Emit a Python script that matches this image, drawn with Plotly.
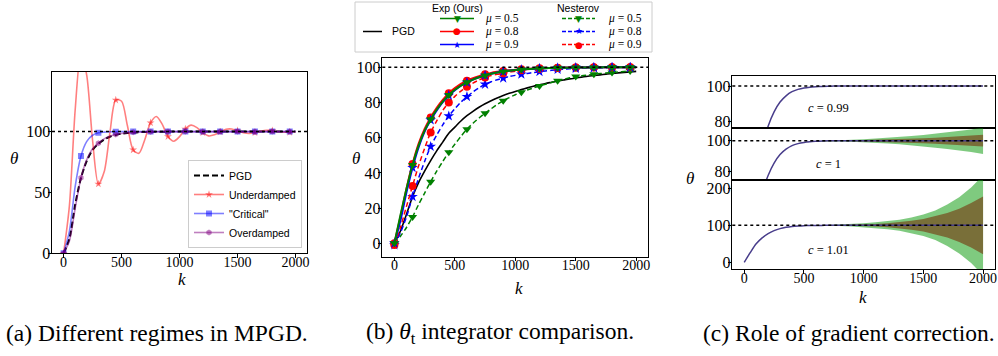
import plotly.graph_objects as go

# ---------------- data ----------------
K = list(range(0, 2001, 50))          # iteration index k
MARK_EVERY = 3                        # markers every 150 iterations
TARGET = 100                          # optimum theta*

# (a) Different regimes in MPGD
A_PGD = [0, 12, 40, 62, 76, 85, 90, 93.5, 95.8, 97.3, 98.3, 98.9, 99.3, 99.6, 99.75, 99.85, 99.9, 99.95,
         100, 100, 100, 100, 100, 100, 100, 100, 100, 100, 100, 100, 100, 100, 100, 100, 100, 100, 100,
         100, 100, 100, 100]
A_UNDER = [0, 39, 118, 166, 146, 92.7, 57, 67, 99.6, 126, 125, 105, 85, 82.2, 93.3, 107.3, 112.4, 106.1,
           96, 92.1, 95.9, 102.2, 105.3, 103.3, 99.1, 96.5, 97.35, 99.8, 101.9, 102.1, 100.7, 99.1, 98.5,
           99.2, 100.3, 101, 100.8, 100.05, 99.5, 99.5, 99.9]
A_CRIT = [0, 18, 55, 80, 92, 97, 99, 99.6, 99.85, 99.95, 100, 100, 100, 100, 100, 100, 100, 100, 100, 100,
          100, 100, 100, 100, 100, 100, 100, 100, 100, 100, 100, 100, 100, 100, 100, 100, 100, 100, 100,
          100, 100]
A_OVER = [0, 10, 37, 62, 77, 86, 90.5, 94, 96.2, 97.6, 98.5, 99, 99.4, 99.65, 99.8, 99.9, 99.95, 100, 100,
          100, 100, 100, 100, 100, 100, 100, 100, 100, 100, 100, 100, 100, 100, 100, 100, 100, 100, 100,
          100, 100, 100]
A_LABELS = ["PGD", "Underdamped", "\"Critical\"", "Overdamped"]

# (b) theta_t integrator comparison
B_PGD = [0, 7, 16.5, 26.5, 34.5, 41, 47, 52.5, 57.5, 62.5, 66, 69.5, 72.5, 75, 77.3, 79.3, 81, 82.6, 84,
         85.2, 86.3, 87.3, 88.3, 89.2, 90, 90.8, 91.5, 92.2, 92.8, 93.4, 93.9, 94.4, 94.9, 95.3, 95.7,
         96.1, 96.5, 96.8, 97.1, 97.4, 97.7]
EXP_05 = [0, 16, 31, 44.5, 55.5, 64, 70.5, 76, 80.5, 84.3, 87.2, 89.6, 91.5, 93, 94.3, 95.4, 96.3, 97,
          97.6, 98, 98.4, 98.7, 99, 99.2, 99.35, 99.5, 99.6, 99.7, 99.75, 99.8, 99.85, 99.88, 99.9, 99.92,
          99.94, 99.95, 99.96, 99.97, 99.98, 99.99, 100]
EXP_08 = [0, 15, 31, 45, 56.5, 65, 71.5, 77, 81.5, 85.3, 88.2, 90.6, 92.4, 93.8, 95, 96, 96.8, 97.4, 97.9,
          98.3, 98.6, 98.9, 99.1, 99.3, 99.45, 99.55, 99.65, 99.72, 99.78, 99.83, 99.87, 99.9, 99.92,
          99.94, 99.95, 99.96, 99.97, 99.98, 99.99, 100, 100]
EXP_09 = [0, 13, 29, 43, 54.5, 63.5, 70, 75.5, 80.2, 84, 87, 89.5, 91.4, 93, 94.3, 95.4, 96.3, 97, 97.6,
          98, 98.4, 98.7, 99, 99.2, 99.35, 99.5, 99.6, 99.7, 99.75, 99.8, 99.85, 99.88, 99.9, 99.92, 99.94,
          99.95, 99.96, 99.97, 99.98, 99.99, 100]
NES_05 = [0, 4, 9, 15, 22, 28.5, 35, 41, 46.5, 51.7, 56.3, 60.7, 64.8, 68.2, 71.2, 73.9, 76.4, 78.8, 81,
          82.8, 84.4, 85.8, 87.1, 88.3, 89.4, 90.4, 91.4, 92.4, 93.2, 94, 94.7, 95.2, 95.6, 96, 96.4,
          96.7, 97, 97.3, 97.6, 97.9, 98.1]
NES_08 = [-1, 6, 15, 26.5, 37, 46.5, 55, 61.5, 67.3, 72.3, 76.5, 80.2, 83.3, 86, 88.3, 90.3, 91.8, 92.9,
          93.8, 94.7, 95.4, 96, 96.5, 97, 97.5, 97.9, 98.3, 98.7, 98.95, 99.15, 99.3, 99.45, 99.55, 99.65,
          99.72, 99.78, 99.83, 99.87, 99.9, 99.93, 99.95]
NES_09 = [-1, 9, 21, 32.6, 44, 54, 63, 69.5, 75.5, 80, 83.5, 86.5, 89, 91, 92.8, 94.2, 95.3, 96, 96.6,
          97.2, 97.8, 98.3, 98.7, 99, 99.2, 99.4, 99.55, 99.65, 99.75, 99.82, 99.87, 99.9, 99.93, 99.95,
          99.96, 99.97, 99.98, 99.99, 100, 100, 100]
MU_LABELS = ["0.5", "0.8", "0.9"]
GROUP_TITLES = ["Exp (Ours)", "Nesterov"]

# (c) Role of gradient correction
C_CURVE = [0, 26, 50, 66, 77.5, 85.5, 91, 94.5, 96.8, 98.1, 98.9, 99.35, 99.6, 99.78, 99.88, 99.94, 99.97,
           99.99, 100, 100, 100, 100, 100, 100, 100, 100, 100, 100, 100, 100, 100, 100, 100, 100, 100,
           100, 100, 100, 100, 100, 100]
K_BAND = K[::2]                       # k = 0, 100, ..., 2000
C1_GREEN_HW = [0, 0, 0, 0, 0, 0, 0.1, 0.25, 0.45, 0.7, 1.0, 1.35, 1.8, 2.35, 3.0, 3.7, 4.5, 5.3, 6.2, 7.3, 8.6]
C1_BROWN_HW = [0, 0, 0, 0, 0, 0, 0.05, 0.1, 0.2, 0.3, 0.45, 0.6, 0.8, 1.05, 1.3, 1.6, 1.95, 2.3, 2.75, 3.25, 3.8]
C101_GREEN_HW = [0, 0, 0, 0, 0, 0, 0.3, 0.8, 2, 3.5, 5.5, 8, 11, 15, 21, 29, 40, 56, 76, 102, 135]
C101_BROWN_HW = [0, 0, 0, 0, 0, 0, 0.1, 0.3, 0.7, 1.3, 2.2, 3.5, 5.5, 8, 12, 17, 24, 33, 45, 60, 78]
C_LABELS = ["0.99", "1", "1.01"]

CAPTIONS = ["(a) Different regimes in MPGD.",
            "(b) <i>θ</i><sub>t</sub> integrator comparison.",
            "(c) Role of gradient correction."]

# ---------------- styling ----------------
W, H = 998, 356
SERIF = "Liberation Serif, Times New Roman, Times, serif"
SANS = "Liberation Sans, Arial, sans-serif"
GREEN, RED, BLUE = "rgb(0,128,0)", "rgb(255,0,0)", "rgb(0,0,255)"


def fx(p):
    return p / W


def fy(p):
    return 1 - p / H


fig = go.Figure()


def line_trace(xa, ya, y, color, width, dash="solid", symbol=None, msize=7, name=None, legend=False):
    fig.add_trace(go.Scatter(x=K, y=y, mode="lines", xaxis=xa, yaxis=ya, showlegend=False,
                             hoverinfo="skip",
                             line=dict(color=color, width=width, dash=dash, shape="spline", smoothing=0.8)))
    if symbol:
        fig.add_trace(go.Scatter(x=K[::MARK_EVERY], y=y[::MARK_EVERY], mode="markers", xaxis=xa, yaxis=ya,
                                 showlegend=False, hoverinfo="skip",
                                 marker=dict(symbol=symbol, size=msize, color=color, line=dict(width=0))))
    if legend:
        fig.add_trace(go.Scatter(x=[None], y=[None], name=name, xaxis=xa, yaxis=ya,
                                 mode="lines+markers" if symbol else "lines",
                                 line=dict(color=color, width=width, dash=dash),
                                 marker=dict(symbol=symbol or "circle", size=msize, color=color,
                                             line=dict(width=0)),
                                 showlegend=True, legend="legend"))


# (a)
line_trace("x", "y", A_PGD, "black", 2, "6px,3px", name=A_LABELS[0], legend=True)
line_trace("x", "y", A_UNDER, "rgba(255,0,0,0.5)", 1.6, symbol="star", msize=6, name=A_LABELS[1], legend=True)
line_trace("x", "y", A_CRIT, "rgba(0,0,255,0.5)", 1.6, symbol="square", msize=6, name=A_LABELS[2], legend=True)
line_trace("x", "y", A_OVER, "rgba(128,0,128,0.5)", 1.6, symbol="hexagon", msize=6, name=A_LABELS[3], legend=True)

# (b)
B_SERIES = [
    dict(group=0, mu=0, y=EXP_05, color=GREEN, dash="solid", symbol="triangle-down", glyph="▼"),
    dict(group=0, mu=1, y=EXP_08, color=RED, dash="solid", symbol="circle", glyph="●"),
    dict(group=0, mu=2, y=EXP_09, color=BLUE, dash="solid", symbol="star", glyph="★"),
    dict(group=1, mu=0, y=NES_05, color=GREEN, dash="5px,3px", symbol="triangle-down", glyph="▼"),
    dict(group=1, mu=1, y=NES_08, color=BLUE, dash="5px,3px", symbol="star", glyph="★"),
    dict(group=1, mu=2, y=NES_09, color=RED, dash="5px,3px", symbol="circle", glyph="●"),
]
line_trace("x2", "y2", B_PGD, "black", 1.6)
for idx in [3, 4, 5, 1, 2, 0]:
    s = B_SERIES[idx]
    line_trace("x2", "y2", s["y"], s["color"], 2 if s["group"] == 0 else 1.5, s["dash"],
               symbol=s["symbol"], msize=8)

# (c) bands + curves
GREEN_FILL = "rgba(0,150,0,0.5)"
BROWN_FILL = "rgb(121,111,57)"
center = C_CURVE[::2]
for xa, ya, g_hw, b_hw in [("x4", "y4", C1_GREEN_HW, C1_BROWN_HW), ("x5", "y5", C101_GREEN_HW, C101_BROWN_HW)]:
    for hw, col in [(g_hw, GREEN_FILL), (b_hw, BROWN_FILL)]:
        upper = [c + h for c, h in zip(center, hw)]
        lower = [c - h for c, h in zip(center, hw)]
        fig.add_trace(go.Scatter(x=K_BAND + K_BAND[::-1], y=upper + lower[::-1], fill="toself",
                                 fillcolor=col, mode="lines", line=dict(width=0), xaxis=xa, yaxis=ya,
                                 showlegend=False, hoverinfo="skip"))
for xa, ya in [("x3", "y3"), ("x4", "y4"), ("x5", "y5")]:
    line_trace(xa, ya, C_CURVE, "rgb(72,61,139)", 1.5)


# ---------------- axes ----------------
def axis(domain, rng, tickvals, anchor, labels=True, size=16, ticks="outside", standoff=-6):
    return dict(domain=domain, range=rng, tickvals=tickvals, ticks=ticks, ticklen=3.5, tickwidth=0.8,
                tickcolor="black", showline=True, linecolor="black", linewidth=1, mirror=True,
                showgrid=False, zeroline=False, showticklabels=labels, anchor=anchor, automargin=False,
                ticklabelstandoff=standoff,
                tickfont=dict(family=SERIF, size=size, color="black"))


KT = [0, 500, 1000, 1500, 2000]
XA = [fx(52), fx(307)]
XB = [fx(382.3), fx(648.3)]
XC = [fx(732.3), fx(995)]
XSO = -8
layout_axes = dict(
    xaxis=axis(XA, [-100, 2099], KT, "y", size=14, standoff=XSO),
    yaxis=axis([fy(253.3), fy(72)], [0, 149], [0, 50, 100], "x"),
    xaxis2=axis(XB, [-100, 2100], KT, "y2", size=14, standoff=XSO),
    yaxis2=axis([fy(256.7), fy(58.3)], [-7.6, 105.1], [0, 20, 40, 60, 80, 100], "x2"),
    xaxis3=axis(XC, [-100, 2100], KT, "y3", labels=False, ticks=""),
    yaxis3=axis([fy(128.3), fy(76)], [76.3, 105.6], [80, 100], "x3"),
    xaxis4=axis(XC, [-100, 2100], KT, "y4", labels=False, ticks=""),
    yaxis4=axis([fy(180), fy(128.3)], [74.6, 108], [80, 100], "x4"),
    xaxis5=axis(XC, [-100, 2100], KT, "y5", size=14, standoff=XSO),
    yaxis5=axis([fy(269.3), fy(180)], [-19, 222.5], [0, 100, 200], "x5"),
)

fig.update_layout(
    width=W, height=H, margin=dict(l=0, r=0, t=0, b=0), template="none",
    paper_bgcolor="white", plot_bgcolor="white", showlegend=True,
    legend=dict(x=fx(302), y=fy(248), xanchor="right", yanchor="bottom",
                bgcolor="rgba(255,255,255,0.85)", bordercolor="#cccccc", borderwidth=1,
                font=dict(family=SANS, size=10.5, color="black"), tracegroupgap=0, itemwidth=30),
    **layout_axes,
)

# target level lines
for xa, ya in [("x", "y"), ("x2", "y2"), ("x3", "y3"), ("x4", "y4"), ("x5", "y5")]:
    fig.add_shape(type="line", xref=f"{xa} domain", yref=ya, x0=0, x1=1, y0=TARGET, y1=TARGET,
                  line=dict(color="black", width=1.5, dash="dot"), layer="above")


def ann(x, y, text, size, family=SERIF, color="black", xanchor="center"):
    fig.add_annotation(x=fx(x), y=fy(y), xref="paper", yref="paper", text=text, showarrow=False,
                       font=dict(family=family, size=size, color=color), xanchor=xanchor,
                       yanchor="middle")


# axis titles
for (tx, ty), (kx, ky) in [((14, 158), (182, 279)), ((356, 158), (519, 288)), ((690, 178), (863, 297))]:
    ann(tx, ty, "<i>θ</i>", 17)
    ann(kx, ky, "<i>k</i>", 17)

# c labels
for y, lab in zip([108, 164, 250], C_LABELS):
    ann(828, y, f"<i>c</i> = {lab}", 12.5)

# captions
ann(4, 333, CAPTIONS[0], 23.5, xanchor="left")
ann(500, 333, CAPTIONS[1], 23.5)
ann(997, 333, CAPTIONS[2], 23.5, xanchor="right")

# ---------------- custom legend for (b) ----------------
fig.add_shape(type="rect", xref="paper", yref="paper", x0=fx(355), x1=fx(652), y0=fy(52), y1=fy(2),
              line=dict(color="#cccccc", width=1), fillcolor="rgba(255,255,255,0.9)", layer="above")
fig.add_shape(type="line", xref="paper", yref="paper", x0=fx(363), x1=fx(382), y0=fy(31.5), y1=fy(31.5),
              line=dict(color="black", width=1.5), layer="above")
ann(390, 31.5, "PGD", 10.5, family=SANS, xanchor="left")
COLS = [dict(x0=440, x1=474, tx=483), dict(x0=562, x1=595, tx=606)]
ROWS = [18.5, 31.5, 44.5]
for g, title in enumerate(GROUP_TITLES):
    c = COLS[g]
    ann((c["x0"] + c["x1"]) / 2, 7.5, title, 10.5, family=SANS)
for s in B_SERIES:
    c = COLS[s["group"]]
    yy = ROWS[s["mu"]]
    fig.add_shape(type="line", xref="paper", yref="paper", x0=fx(c["x0"]), x1=fx(c["x1"]), y0=fy(yy),
                  y1=fy(yy), line=dict(color=s["color"], width=1.5,
                                        dash="solid" if s["group"] == 0 else "4px,2px"), layer="above")
    ann((c["x0"] + c["x1"]) / 2, yy, s["glyph"], 9, family="DejaVu Sans", color=s["color"])
    ann(c["tx"], yy, f"<i>μ</i> = {MU_LABELS[s['mu']]}", 11.5, xanchor="left")

fig.write_html("out.html", config={"displayModeBar": False},
               post_script="document.body.style.margin='0px';document.body.style.padding='0px';")
